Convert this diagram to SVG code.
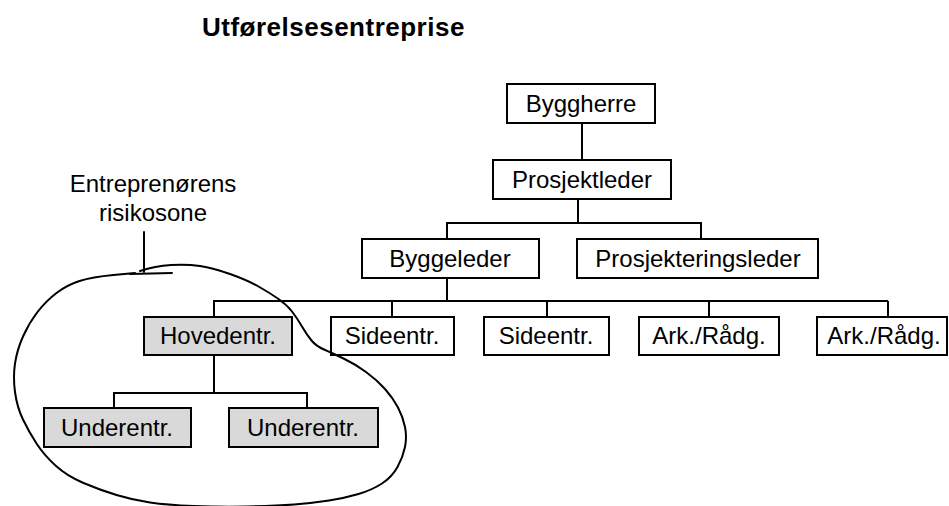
<svg xmlns="http://www.w3.org/2000/svg" width="949" height="506" viewBox="0 0 949 506">
  <style>
    .box { fill: #ffffff; stroke: #000000; stroke-width: 2; }
    .shaded { fill: #d9d9d9; }
    .lbl { font-family: "Liberation Sans", Arial, sans-serif; font-size: 24px; fill: #000000; text-anchor: middle; }
    .title { font-family: "Liberation Sans", Arial, sans-serif; font-size: 26px; font-weight: bold; letter-spacing: 0.5px; fill: #000000; }
    .wire { fill: none; stroke: #000000; stroke-width: 2; }
    .zone { fill: none; stroke: #000000; stroke-width: 2; stroke-linecap: round; stroke-linejoin: round; }
  </style>

  <rect width="949" height="506" fill="#ffffff"/>

  <text class="title" x="202" y="36">Utførelsesentreprise</text>

  <!-- tree connectors -->
  <g id="connectors" class="wire">
    <path d="M582,123 V160"/>
    <path d="M578,199 V223"/>
    <path d="M447,239 V223 H701 V239"/>
    <path d="M447,278 V301"/>
    <path d="M213,301 H888"/>
    <path d="M214,301 V317"/>
    <path d="M392,301 V317"/>
    <path d="M547,301 V317"/>
    <path d="M709,301 V317"/>
    <path d="M888,301 V317"/>
    <path d="M214,355 V393"/>
    <path d="M114,408 V393 H307 V408"/>
  </g>

  <g id="byggherre">
    <rect class="box" x="507" y="84" width="148" height="39"/>
    <text class="lbl" x="581" y="112">Byggherre</text>
  </g>
  <g id="prosjektleder">
    <rect class="box" x="493" y="160" width="178" height="39"/>
    <text class="lbl" x="582" y="188">Prosjektleder</text>
  </g>
  <g id="byggeleder">
    <rect class="box" x="362" y="239" width="177" height="39"/>
    <text class="lbl" x="450" y="267">Byggeleder</text>
  </g>
  <g id="prosjekteringsleder">
    <rect class="box" x="577" y="239" width="241" height="39"/>
    <text class="lbl" x="698" y="267">Prosjekteringsleder</text>
  </g>
  <g id="hovedentr">
    <rect class="box shaded" x="144" y="317" width="148" height="38"/>
    <text class="lbl" x="218" y="344">Hovedentr.</text>
  </g>
  <g id="sideentr-1">
    <rect class="box" x="331" y="317" width="123" height="38"/>
    <text class="lbl" x="392" y="344">Sideentr.</text>
  </g>
  <g id="sideentr-2">
    <rect class="box" x="484" y="317" width="125" height="38"/>
    <text class="lbl" x="546" y="344">Sideentr.</text>
  </g>
  <g id="ark-radg-1">
    <rect class="box" x="639" y="317" width="140" height="38"/>
    <text class="lbl" x="709" y="344">Ark./Rådg.</text>
  </g>
  <g id="ark-radg-2">
    <rect class="box" x="817" y="317" width="130" height="38"/>
    <text class="lbl" x="884" y="344">Ark./Rådg.</text>
  </g>
  <g id="underentr-1">
    <rect class="box shaded" x="44" y="408" width="147" height="39"/>
    <text class="lbl" x="117" y="436">Underentr.</text>
  </g>
  <g id="underentr-2">
    <rect class="box shaded" x="229" y="408" width="149" height="39"/>
    <text class="lbl" x="303" y="436">Underentr.</text>
  </g>

  <!-- hand-drawn risk zone with its label -->
  <g id="risikosone">
    <text class="lbl" x="153" y="192">Entreprenørens</text>
    <text class="lbl" x="153" y="221">risikosone</text>
    <path class="zone" d="M144,232 V272"/>
    <path class="zone" d="M130,274 L172,273"/>
    <path class="zone" d="M140,271 Q155,266 171,265 Q187,264 200,266 Q213,268 230,274 Q247,280 258.5,286.5 Q270,293 278.5,299 Q287,305 292,311.5 Q297,318 302,326.5 Q307,335 311.5,340.5 Q316,346 324,349.5 Q332,353 343.5,358.5 Q355,364 366,372 Q377,380 385,389 Q393,398 398,407.5 Q403,417 405,427 Q407,437 405,447 Q403,457 397.5,467 Q392,477 382,483.5 Q372,490 358.5,494 Q345,498 329,500.5 Q313,503 294,504.5 Q275,506 247.5,506.5 Q220,507 193.5,506 Q167,505 150,502.5 Q133,500 116.5,495 Q100,490 83.5,483 Q67,476 55.5,465.5 Q44,455 36.5,443.5 Q29,432 23,419.5 Q17,407 15,392 Q13,377 15,363.5 Q17,350 23,336.5 Q29,323 37.5,312 Q46,301 56.5,293 Q67,285 79.5,281 Q92,277 113.5,275 L135,273"/>
  </g>
</svg>
